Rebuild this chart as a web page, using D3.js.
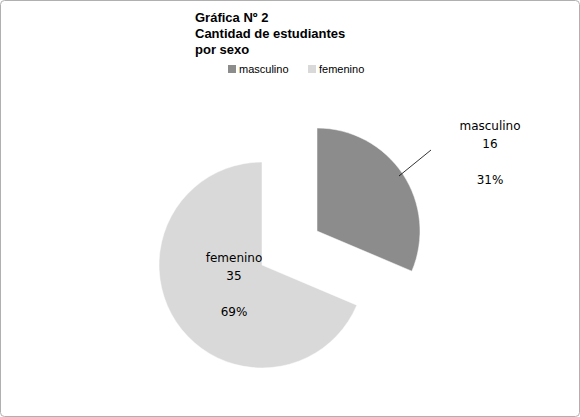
<!DOCTYPE html>
<html><head><meta charset="utf-8">
<script src="https://cdn.jsdelivr.net/npm/d3@7"></script>
<style>body{margin:0;background:#fff}</style>
</head><body>
<svg id="c" width="580" height="417"></svg>
<script>
const categories = ["masculino","femenino"];
const values = [16,35];
const percents = ["31%","69%"];
const colors = ["#8c8c8c","#d9d9d9"];
const titleLines = ["Gráfica Nº 2","Cantidad de estudiantes","por sexo"];

const svg = d3.select("#c");
svg.append("rect").attr("x",0.5).attr("y",0.5).attr("width",579).attr("height",416)
  .attr("rx",4).attr("fill","#fff").attr("stroke","#b0b0b0");

const font = "Liberation Sans, Arial, sans-serif";
svg.append("g").selectAll("text").data(titleLines).join("text")
  .attr("x",195).attr("y",(d,i)=>22+i*16).attr("font-family",font)
  .attr("font-weight","bold").attr("font-size",13).attr("fill","#000").text(d=>d);

const leg = svg.append("g");
const lx=[228,308];
categories.forEach((c,i)=>{
  leg.append("rect").attr("x",lx[i]).attr("y",65).attr("width",8).attr("height",8).attr("fill",colors[i]);
  leg.append("text").attr("x",lx[i]+11).attr("y",73).attr("font-family",font).attr("font-size",11).text(c);
});

const pie = d3.pie().sort(null)(values);
const r = 103;
const arc = d3.arc().innerRadius(0).outerRadius(r);
const centers = [[317,231],[262,265]];
pie.forEach((p,i)=>{
  svg.append("path").attr("transform",`translate(${centers[i]})`)
    .attr("d",arc(p)).attr("fill",colors[i]).attr("stroke","#fff").attr("stroke-width",0.5);
});

svg.append("line").attr("x1",431).attr("y1",150).attr("x2",399).attr("y2",176).attr("stroke","#000").attr("stroke-width",0.8);

const labelPos = [[490,130],[234,262]];
pie.forEach((p,i)=>{
  const g = svg.append("g").attr("font-family","DejaVu Sans, sans-serif").attr("font-size",12).attr("text-anchor","middle").attr("fill","#000");
  g.append("text").attr("x",labelPos[i][0]).attr("y",labelPos[i][1]).text(categories[i]);
  g.append("text").attr("x",labelPos[i][0]).attr("y",labelPos[i][1]+18).text(values[i]);
  g.append("text").attr("x",labelPos[i][0]).attr("y",labelPos[i][1]+54).text(percents[i]);
});
</script>
</body></html>
